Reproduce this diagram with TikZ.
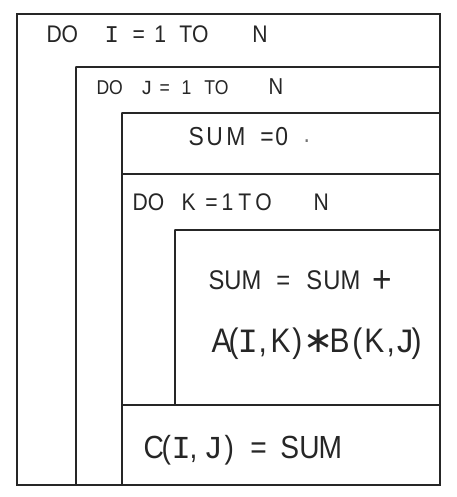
\documentclass[tikz,border=0pt]{standalone}
\usepackage{fontspec}
\setmainfont{Liberation Sans}[FakeStretch=0.88]
\newfontfamily\monoI{Liberation Mono}
\newfontfamily\symf{DejaVu Sans}
\newcommand\fsz[1]{\fontsize{#1}{#1}\selectfont}
\newcommand\tokat[2]{\rlap{\hspace*{#1pt}#2}}
\newcommand\mI{{\monoI I}}
\newcommand\mJ{{\monoI J}}
\tikzset{
  frame/.style={line width=1.1pt, draw=black!85, line cap=round},
  txt/.style={anchor=base west, inner sep=0pt, outer sep=0pt, text=black!85}
}
\begin{document}
\begin{tikzpicture}[x=1pt,y=-1pt]
\useasboundingbox (0,0) rectangle (456,497);
\fill[white] (0,0) rectangle (456,497);
% frames
\draw[frame] (17,14) rectangle (440,485);
\draw[frame] (76,67) -- (440,67);
\draw[frame] (76,67) -- (76,485);
\draw[frame] (122,113) -- (440,113);
\draw[frame] (122,113) -- (122,485);
\draw[frame] (122,174) -- (440,174);
\draw[frame] (175,230) -- (440,230);
\draw[frame] (175,230) -- (175,405);
\draw[frame] (122,405) -- (440,405);
% texts
\node (l1) [txt, font=\fsz{24}] at (46,43)
  {\tokat{0}{DO}\tokat{58}{\mI}\tokat{86}{=}\tokat{108}{1}\tokat{133}{TO}\tokat{206}{N}};
\node (l2) [txt, font=\fsz{20}] at (96,95)
  {\tokat{0}{DO}\tokat{44}{\mJ}\tokat{63}{=}\tokat{85}{1}\tokat{108}{TO}\tokat{172}{\fsz{23}N}};
\node (l3) [txt, font=\fsz{26}] at (188,146)
  {\tokat{0}{S}\tokat{18}{U}\tokat{38}{M}\tokat{72}{=}\tokat{87}{0}\tokat{115}{\textcolor{black!55}{\raisebox{3pt}{.}}}};
\node (l4) [txt, font=\fsz{24}] at (132,210)
  {\tokat{0}{DO}\tokat{49}{K}\tokat{73}{=}\tokat{89}{1}\tokat{106}{T}\tokat{123}{O}\tokat{181}{N}};
\node (l5) [txt, font=\fsz{27}] at (208,289)
  {\tokat{0}{S}\tokat{16}{U}\tokat{33}{M}\tokat{68}{=}\tokat{98}{S}\tokat{115}{U}\tokat{132}{M}\tokat{164}{\raisebox{-3pt}{\fsz{38}+}}};
\node (l6) [txt, font=\fsz{34}] at (211,352)
  {\tokat{0}{A}\tokat{17}{(}\tokat{26}{\mI}\tokat{47}{,}\tokat{59}{K}\tokat{81}{)}\tokat{92}{{\symf\fsz{36}∗}}\tokat{118}{B}\tokat{141}{(}\tokat{153}{K}\tokat{175}{,}\tokat{183}{\mJ}\tokat{200}{)}};
\node (l7) [txt, font=\fsz{32}] at (143,458)
  {\tokat{0}{C}\tokat{18}{(}\tokat{28}{\mI}\tokat{46}{,}\tokat{60}{\mJ}\tokat{81}{)}\tokat{107}{=}\tokat{137}{S}\tokat{156}{U}\tokat{175}{M}};
\end{tikzpicture}
\end{document}
